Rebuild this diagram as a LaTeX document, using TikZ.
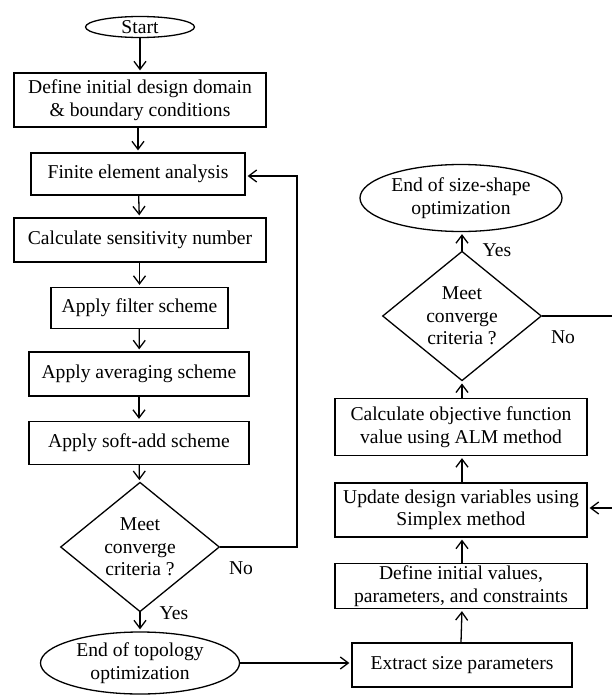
\documentclass[tikz,border=0pt]{standalone}
\usepackage{fontspec}
\setmainfont{Liberation Serif}
\usetikzlibrary{shapes.geometric,arrows.meta}
\begin{document}
\begin{tikzpicture}[x=1pt,y=-1pt,
  every node/.style={font=\fontsize{19.6}{22.5}\selectfont, align=center, inner sep=0pt},
  box/.style={draw, line width=1.3pt, rectangle},
  term/.style={draw, line width=1.3pt, ellipse},
  dec/.style={draw, line width=1.3pt, diamond},
  arr/.style={line width=1.3pt, -{Straight Barb[length=8pt,width=12pt,line width=1.3pt]}, shorten >=2pt},
  lbl/.style={draw=none}]
\useasboundingbox (0,0) rectangle (611,696);
% left column
\node[term, minimum width=109, minimum height=21] (start) at (140,27) {Start};
\node[box, minimum width=252, minimum height=54] (dom) at (140,100) {Define initial design domain\\\& boundary conditions};
\node[box, minimum width=214, minimum height=42] (fea) at (138,174) {Finite element analysis};
\node[box, minimum width=252, minimum height=44] (sens) at (140,240) {Calculate sensitivity number};
\node[box, minimum width=177, minimum height=41] (filt) at (139.5,308) {Apply filter scheme};
\node[box, minimum width=220, minimum height=44] (avg) at (139,374) {Apply averaging scheme};
\node[box, minimum width=220, minimum height=43] (soft) at (139,443) {Apply soft-add scheme};
\node[dec, minimum width=159, minimum height=113] (d1) at (140,547) {Meet\\converge\\criteria ?};
\node[term, minimum width=199, minimum height=62] (endtop) at (140,663) {End of topology\\optimization};
% right column
\node[term, minimum width=202, minimum height=67] (endsize) at (461,198) {End of size-shape\\optimization};
\node[dec, minimum width=159, minimum height=113] (d2) at (462,316) {Meet\\converge\\criteria ?};
\node[box, minimum width=252, minimum height=57] (obj) at (461,427) {Calculate objective function\\value using ALM method};
\node[box, minimum width=252, minimum height=54] (upd) at (461,510) {Update design variables using\\Simplex method};
\node[box, minimum width=252, minimum height=45] (init) at (461,586) {Define initial values,\\parameters, and constraints};
\node[box, minimum width=220, minimum height=44] (ext) at (462,665) {Extract size parameters};
% left arrows
\draw[arr] (start) -- (dom);
\draw[arr] (dom.south -| fea.north) -- (fea.north);
\draw[arr] (fea) -- (sens);
\draw[arr] (sens.south -| filt.north) -- (filt);
\draw[arr] (filt) -- (avg);
\draw[arr] (avg) -- (soft);
\draw[arr] (soft) -- (d1);
\draw[arr] (d1) -- (endtop);
\coordinate (r1) at (297,547);
\draw[arr] (d1.east) -- (r1) |- ([yshift=-2pt]fea.east);
\node[lbl] at (241,568) {No};
\node[lbl] at (174,613) {Yes};
% connection
\draw[arr] (endtop.east) -- (endtop.east -| ext.west);
% right arrows
\draw[arr] (ext.north -| init.south) -- (init.south -| ext.north);
\draw[arr] (init.north -| ext.north) -- (upd.south -| ext.north);
\draw[arr] (upd.north -| ext.north) -- (obj.south -| ext.north);
\draw[arr] (obj.north -| d2.south) -- (d2.south);
\draw[arr] (d2.north) -- (d2.north |- endsize.south);
\coordinate (r2) at (613,316);
\draw[arr] (d2.east) -- (r2) |- ([yshift=2pt]upd.east);
\node[lbl] at (497,250) {Yes};
\node[lbl] at (563,337) {No};
\end{tikzpicture}
\end{document}
